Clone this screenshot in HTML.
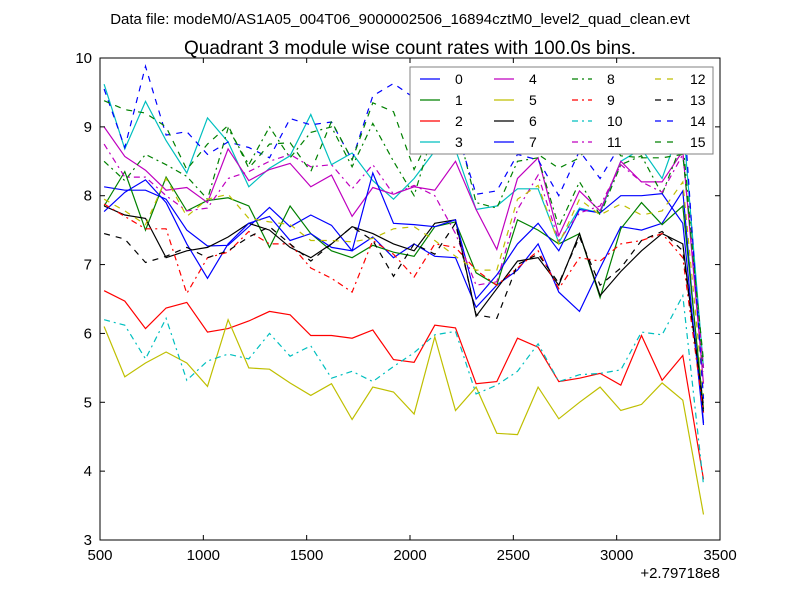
<!DOCTYPE html>
<html><head><meta charset="utf-8"><style>
body{margin:0;background:#fff}
svg{display:block;font-family:"Liberation Sans","DejaVu Sans",sans-serif}
</style></head><body>
<svg id="chart" width="800" height="600" viewBox="0 0 800 600">
<rect width="800" height="600" fill="#fff"/>
<text x="400" y="24" font-size="15" text-anchor="middle">Data file: modeM0/AS1A05_004T06_9000002506_16894cztM0_level2_quad_clean.evt</text>
<text x="410" y="54" font-size="19" text-anchor="middle">Quadrant 3 module wise count rates with 100.0s bins.</text>
<g id="plot"></g>
</svg>
<script>
const xStart = [520];
const binStep = [100];
const s0=[8.13,8.08,8.08,7.95,7.5,7.27,7.28,7.55,7.83,7.55,7.72,7.57,7.2,7.4,7.1,7.3,7.12,7.1,6.38,6.7,6.92,7.3,6.6,6.32,6.95,7.55,7.5,7.6,8.07,4.7];
const s1=[7.85,8.35,7.5,8.27,7.78,7.93,7.97,7.85,7.25,7.85,7.45,7.2,7.1,7.28,7.18,7.12,7.55,7.62,6.88,6.7,7.65,7.5,7.3,7.45,6.52,7.52,7.9,7.58,7.85,4.9];
const s2=[6.62,6.47,6.07,6.37,6.45,6.02,6.07,6.18,6.32,6.27,5.97,5.97,5.93,6.05,5.62,5.58,6.12,6.08,5.27,5.3,5.93,5.8,5.3,5.35,5.42,5.25,5.97,5.32,5.68,3.88];
const s3=[9.62,8.68,9.37,8.8,8.33,9.13,8.78,8.13,8.4,8.58,9.18,8.45,8.62,8.22,7.95,8.25,8.65,8.67,7.8,7.85,8.1,8.1,7.32,7.82,7.75,8.5,8.68,8.25,9.1,5.5];
const s4=[9.0,8.57,8.37,8.08,8.12,7.9,8.68,8.22,8.38,8.47,8.13,8.3,7.7,8.12,8.02,8.13,8.08,8.5,7.8,7.22,8.25,8.55,7.42,8.07,7.78,8.5,8.2,8.2,8.65,5.27];
const s5=[6.1,5.37,5.57,5.73,5.57,5.23,6.2,5.5,5.48,5.28,5.1,5.27,4.75,5.22,5.15,4.83,5.95,4.88,5.22,4.55,4.53,5.22,4.76,5.0,5.22,4.88,4.97,5.28,5.03,3.37];
const s6=[7.85,7.72,7.67,7.1,7.2,7.25,7.4,7.6,7.5,7.25,7.1,7.3,7.55,7.45,7.3,7.2,7.6,7.65,6.25,6.65,7.05,7.1,6.7,7.45,6.55,6.9,7.2,7.45,7.3,4.85];
const s7=[7.77,8.05,8.23,7.9,7.3,6.8,7.3,7.6,7.7,7.35,7.45,7.25,7.2,8.33,7.6,7.58,7.55,7.65,6.5,6.85,7.3,7.6,7.2,7.8,7.75,8.0,8.0,8.03,7.6,4.67];
const s8=[8.5,8.22,8.6,8.45,8.28,7.95,8.98,8.45,9.0,8.55,8.92,9.0,8.42,9.05,8.5,8.0,9.0,9.1,7.9,7.82,8.5,8.55,7.55,8.2,7.72,8.45,8.58,8.02,8.8,5.45];
const s9=[7.88,7.7,7.52,7.52,6.58,7.1,7.18,7.48,7.3,7.3,6.95,6.8,6.6,7.35,7.15,6.82,7.3,7.25,6.92,6.7,6.95,7.2,6.65,7.1,7.05,7.3,7.35,7.45,7.1,4.85];
const s10=[6.2,6.12,5.63,6.22,5.32,5.6,5.7,5.63,6.0,5.67,5.82,5.35,5.45,5.3,5.52,5.72,5.98,6.03,5.12,5.25,5.45,5.85,5.3,5.4,5.42,5.47,6.02,5.98,6.55,3.8];
const s11=[8.75,8.27,8.27,8.0,7.78,7.82,8.25,8.35,8.5,8.6,8.42,8.45,8.1,8.45,8.02,8.15,8.0,7.45,6.7,6.75,7.8,8.3,7.35,7.75,7.85,8.45,8.2,8.05,8.6,5.5];
const s12=[7.95,7.78,7.58,8.25,7.7,7.95,8.02,7.67,7.62,7.58,7.35,7.35,7.33,7.38,7.52,7.55,7.35,7.12,6.92,6.92,7.95,8.15,7.3,7.95,7.72,7.88,7.72,7.78,8.2,5.1];
const s13=[7.45,7.37,7.03,7.12,7.25,7.1,7.2,7.4,7.55,7.3,7.05,7.3,7.55,7.35,6.83,7.3,7.15,7.6,6.27,6.22,7.0,7.15,6.73,7.4,6.7,6.95,7.35,7.48,7.2,4.95];
const s14=[9.55,8.7,9.88,8.88,8.93,8.6,8.78,8.7,8.55,9.12,9.03,9.07,8.52,9.45,9.63,9.42,9.1,9.0,8.02,8.07,8.6,8.52,8.0,8.65,8.25,8.75,9.1,9.52,9.45,5.05];
const s15=[9.38,9.25,9.2,9.0,8.38,8.75,9.02,8.4,8.75,8.77,8.35,9.08,8.52,9.35,9.22,8.38,9.0,9.25,8.62,8.7,9.33,8.6,8.4,8.55,8.95,8.58,8.55,8.55,8.6,5.6];
const seriesNames=["0","1","2","3","4","5","6","7","8","9","10","11","12","13","14","15"];
const xTicks=[500,1000,1500,2000,2500,3000,3500];
const yTicks=[3,4,5,6,7,8,9,10];

const series=[s0,s1,s2,s3,s4,s5,s6,s7,s8,s9,s10,s11,s12,s13,s14,s15];
const colors=["#0000ff","#008000","#ff0000","#00bfbf","#bf00bf","#bfbf00","#000000"];
const L=100,R=720,T=58,B=540;
const xs=v=>L+(v-500)/3000*(R-L);
const ys=v=>B-(v-3)/7*(B-T);
const NS="http://www.w3.org/2000/svg";
const g=document.getElementById('plot');
function mk(t,a,p){const e=document.createElementNS(NS,t);for(const k in a)e.setAttribute(k,a[k]);(p||g).appendChild(e);return e;}
function dash(i){return i<7?"none":(i<8?"none":(i<12?"6,4,2,4":"6,6"));}
series.forEach((d,i)=>{
  const pts=d.map((v,j)=>xs(xStart[0]+binStep[0]*j).toFixed(1)+","+ys(v).toFixed(1)).join(" ");
  const pl=mk('polyline',{points:pts,fill:"none",stroke:colors[i%7],"stroke-width":1.2,"stroke-dasharray":dash(i)});
  
  
});
const frame=mk('rect',{x:L,y:T,width:R-L,height:B-T,fill:"none",stroke:"#000","stroke-width":1});


xTicks.forEach(t=>{
  const x=xs(t);
  mk('line',{x1:x,x2:x,y1:B,y2:B-5,stroke:"#000"});
  mk('line',{x1:x,x2:x,y1:T,y2:T+5,stroke:"#000"});
  const tx=mk('text',{x:x,y:B+20,"font-size":15,"text-anchor":"middle"});
  tx.textContent=t;
  
  
});
yTicks.forEach(t=>{
  const y=ys(t);
  mk('line',{x1:L,x2:L+5,y1:y,y2:y,stroke:"#000"});
  mk('line',{x1:R,x2:R-5,y1:y,y2:y,stroke:"#000"});
  const tx=mk('text',{x:L-8,y:y+5,"font-size":15,"text-anchor":"end"});
  tx.textContent=t;
  
  
});
const off=mk('text',{x:720,y:578,"font-size":15,"text-anchor":"end"});
off.textContent="+2.79718e8";


const lg=mk('g',{});


mk('rect',{x:410,y:67,width:303,height:87,fill:"#fff",stroke:"#808080","stroke-width":1},lg);
const colX=[420,494,572,655];
series.forEach((d,i)=>{
  const c=Math.floor(i/4),r=i%4,y=79+r*21;
  mk('line',{x1:colX[c],x2:colX[c]+20,y1:y,y2:y,stroke:colors[i%7],"stroke-width":1.2,"stroke-dasharray":dash(i)},lg);
  const tx=mk('text',{x:colX[c]+35,y:y+5,"font-size":14},lg);
  tx.textContent=seriesNames[i];
  
  
});
</script>
</body></html>
